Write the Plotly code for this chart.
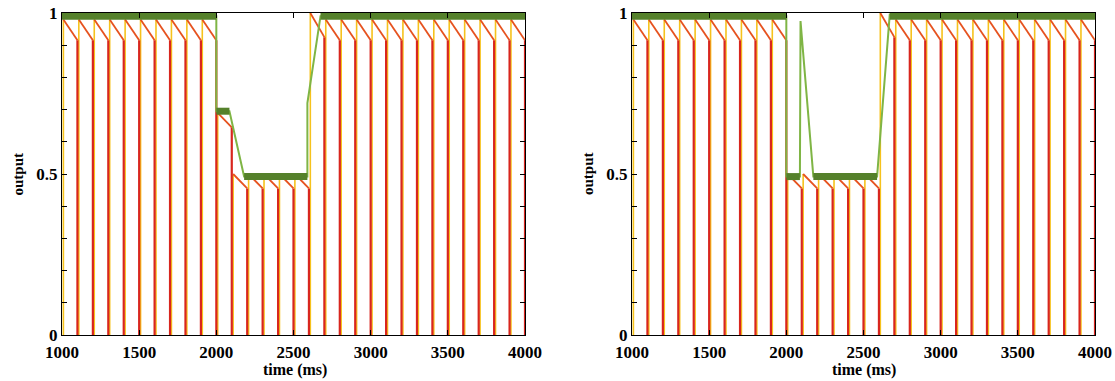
import plotly.graph_objects as go
from plotly.subplots import make_subplots

# ---------------- data ----------------
spike_times = [1000, 1100, 1200, 1300, 1400, 1500, 1600, 1700, 1800, 1900,
               2000, 2100, 2200, 2300, 2400, 2500, 2600, 2700, 2800, 2900,
               3000, 3100, 3200, 3300, 3400, 3500, 3600, 3700, 3800, 3900]

# output just after each spike (peak) and just before next spike (trough)
left_peak = [0.98, 0.98, 0.98, 0.98, 0.98, 0.98, 0.98, 0.98, 0.98, 0.98,
             0.69, 0.50, 0.50, 0.50, 0.50, 0.50, 1.00, 0.98, 0.98, 0.98,
             0.98, 0.98, 0.98, 0.98, 0.98, 0.98, 0.98, 0.98, 0.98, 0.98]
left_trough = [0.915, 0.915, 0.915, 0.915, 0.915, 0.915, 0.915, 0.915, 0.915, 0.915,
               0.645, 0.455, 0.455, 0.455, 0.455, 0.455, 0.925, 0.915, 0.915, 0.915,
               0.915, 0.915, 0.915, 0.915, 0.915, 0.915, 0.915, 0.915, 0.915, 0.915]

right_peak = [0.98, 0.98, 0.98, 0.98, 0.98, 0.98, 0.98, 0.98, 0.98, 0.98,
              0.50, 0.50, 0.50, 0.50, 0.50, 0.50, 1.00, 0.98, 0.98, 0.98,
              0.98, 0.98, 0.98, 0.98, 0.98, 0.98, 0.98, 0.98, 0.98, 0.98]
right_trough = [0.915, 0.915, 0.915, 0.915, 0.915, 0.915, 0.915, 0.915, 0.915, 0.915,
                0.455, 0.455, 0.455, 0.455, 0.455, 0.455, 0.925, 0.915, 0.915, 0.915,
                0.915, 0.915, 0.915, 0.915, 0.915, 0.915, 0.915, 0.915, 0.915, 0.915]

# green (average output) path
left_green_t = [1000, 2000, 2000, 2085, 2180, 2590, 2590, 2675, 4000]
left_green_v = [0.99, 0.99, 0.695, 0.695, 0.492, 0.492, 0.72, 0.99, 0.99]
left_plateau_start = [1000, 2000, 2180, 2675]
left_plateau_end = [2000, 2085, 2590, 4000]
left_plateau_level = [0.99, 0.695, 0.492, 0.99]

right_green_t = [1000, 2000, 2000, 2088, 2092, 2175, 2588, 2670, 4000]
right_green_v = [0.99, 0.99, 0.492, 0.492, 0.975, 0.492, 0.492, 0.995, 0.99]
right_plateau_start = [1000, 2000, 2175, 2670]
right_plateau_end = [2000, 2088, 2588, 4000]
right_plateau_level = [0.99, 0.492, 0.492, 0.99]

x_tick_vals = [1000, 1500, 2000, 2500, 3000, 3500, 4000]
y_tick_vals = [0, 0.5, 1]
y_tick_text = ["0", "0.5", "1"]

# ---------------- styles ----------------
RED = "#d8261e"
YELLOW = "#f6c21c"
ORANGE = "#e6521f"
GREEN_DARK = "#55812b"
GREEN_LIGHT = "#7fb545"
FONT = "Liberation Serif"
RISE_DELAY = 9
PERIOD_END = 100

W, H = 1115, 381

fig = make_subplots(rows=1, cols=2)


def add_panel(col, peaks, troughs, g_t, g_v, p_s, p_e, p_l):
    rise_x, rise_y, drop_x, drop_y, dec_x, dec_y = [], [], [], [], [], []
    for t, pk, tr in zip(spike_times, peaks, troughs):
        tn = t + PERIOD_END
        rise_x += [t + RISE_DELAY, t + RISE_DELAY, None]
        rise_y += [0, pk, None]
        drop_x += [tn, tn, None]
        drop_y += [tr, 0, None]
        dec_x += [t + RISE_DELAY, tn, None]
        dec_y += [pk, tr, None]
    fig.add_trace(go.Scatter(x=rise_x, y=rise_y, mode="lines",
                             line=dict(color=YELLOW, width=1.6),
                             hoverinfo="skip", showlegend=False), row=1, col=col)
    fig.add_trace(go.Scatter(x=drop_x, y=drop_y, mode="lines",
                             line=dict(color=RED, width=2.2),
                             hoverinfo="skip", showlegend=False), row=1, col=col)
    fig.add_trace(go.Scatter(x=dec_x, y=dec_y, mode="lines",
                             line=dict(color=ORANGE, width=1.8),
                             hoverinfo="skip", showlegend=False), row=1, col=col)
    px, py = [], []
    for s, e, l in zip(p_s, p_e, p_l):
        px += [s, e, None]
        py += [l, l, None]
    fig.add_trace(go.Scatter(x=g_t, y=g_v, mode="lines",
                             line=dict(color=GREEN_LIGHT, width=2),
                             hoverinfo="skip", showlegend=False), row=1, col=col)
    fig.add_trace(go.Scatter(x=px, y=py, mode="lines",
                             line=dict(color=GREEN_DARK, width=7),
                             hoverinfo="skip", showlegend=False), row=1, col=col)


add_panel(1, left_peak, left_trough, left_green_t, left_green_v,
          left_plateau_start, left_plateau_end, left_plateau_level)
add_panel(2, right_peak, right_trough, right_green_t, right_green_v,
          right_plateau_start, right_plateau_end, right_plateau_level)


def px_x(x):
    return x / W


def px_y(y):
    return 1 - y / H


xdom = [[px_x(62), px_x(525)], [px_x(632), px_x(1095)]]
ydom = [px_y(335), px_y(13)]

axis_common = dict(showline=True, linecolor="black", linewidth=1, mirror="ticks",
                   ticks="inside", ticklen=5, tickcolor="black", showgrid=False,
                   zeroline=False, automargin=False, ticklabeloverflow="allow",
                   tickfont=dict(family=FONT, size=17, color="black", weight="bold"))

for i, col in enumerate([1, 2]):
    fig.update_xaxes(range=[1000, 4000], tickvals=x_tick_vals, domain=xdom[i],
                     ticklabelstandoff=2, **axis_common, row=1, col=col)
    fig.update_yaxes(range=[0, 1], tickvals=y_tick_vals, ticktext=y_tick_text,
                     domain=ydom, ticklabelstandoff=0,
                     minor=dict(ticks="inside", dtick=0.1, ticklen=5, tickcolor="black"),
                     **axis_common, row=1, col=col)

annotations = []
for cx, ox in [(295, 17.5), (864, 588)]:
    annotations.append(dict(x=px_x(cx), y=px_y(370), xref="paper", yref="paper",
                            text="time (ms)", showarrow=False,
                            font=dict(family=FONT, size=16, color="black", weight="bold"),
                            xanchor="center", yanchor="middle"))
    annotations.append(dict(x=px_x(ox), y=px_y(174), xref="paper", yref="paper",
                            text="output", showarrow=False, textangle=-90,
                            font=dict(family=FONT, size=15, color="black", weight="bold"),
                            xanchor="center", yanchor="middle"))

fig.update_layout(width=W, height=H, margin=dict(l=0, r=0, t=0, b=0),
                  paper_bgcolor="white", plot_bgcolor="white",
                  annotations=annotations, showlegend=False)

fig.write_html("out.html", config={"displayModeBar": False},
               post_script="document.documentElement.style.margin='0';"
                           "document.body.style.margin='0';"
                           "document.body.style.overflow='hidden';")
